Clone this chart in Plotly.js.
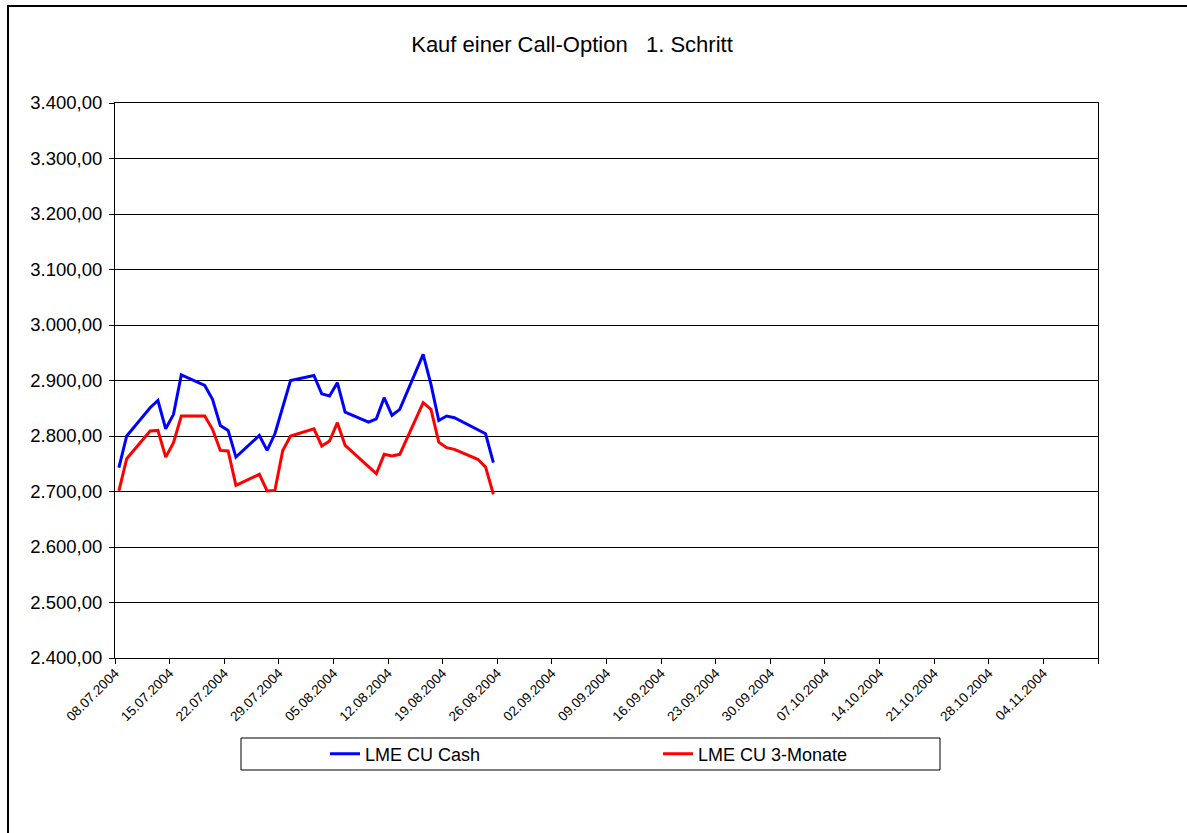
<!DOCTYPE html>
<html>
<head>
<meta charset="utf-8">
<script src="https://cdn.plot.ly/plotly-3.0.1.min.js"></script>
<style>html,body{margin:0;padding:0;background:#fff;}#chart{width:1187px;height:833px;}</style>
</head>
<body>
<div id="chart"></div>
<script>
// Trading days (points drawn at mid-day on the date axis)
const dates = ["2004-07-08","2004-07-09","2004-07-12","2004-07-13","2004-07-14","2004-07-15","2004-07-16",
  "2004-07-19","2004-07-20","2004-07-21","2004-07-22","2004-07-23",
  "2004-07-26","2004-07-27","2004-07-28","2004-07-29","2004-07-30",
  "2004-08-02","2004-08-03","2004-08-04","2004-08-05","2004-08-06",
  "2004-08-09","2004-08-10","2004-08-11","2004-08-12","2004-08-13",
  "2004-08-16","2004-08-17","2004-08-18","2004-08-19","2004-08-20",
  "2004-08-23","2004-08-24","2004-08-25"];
const cashValues = [2743,2800,2851,2864,2813,2839,2910,
  2891,2866,2819,2810,2762,
  2801,2774,2804,2852,2900,
  2909,2876,2872,2896,2843,
  2825,2831,2869,2837,2848,
  2947,2893,2828,2836,2833,
  2812,2804,2752];
const threeMonthValues = [2701,2759,2809,2810,2762,2788,2836,
  2836,2812,2774,2773,2711,
  2731,2701,2702,2774,2800,
  2813,2782,2791,2824,2783,
  2745,2732,2767,2764,2767,
  2860,2848,2789,2779,2776,
  2758,2744,2695];
const tickDates = ["2004-07-08","2004-07-15","2004-07-22","2004-07-29","2004-08-05","2004-08-12",
  "2004-08-19","2004-08-26","2004-09-02","2004-09-09","2004-09-16","2004-09-23","2004-09-30",
  "2004-10-07","2004-10-14","2004-10-21","2004-10-28","2004-11-04","2004-11-11"];
const tickLabels = ["08.07.2004","15.07.2004","22.07.2004","29.07.2004","05.08.2004","12.08.2004",
  "19.08.2004","26.08.2004","02.09.2004","09.09.2004","16.09.2004","23.09.2004","30.09.2004",
  "07.10.2004","14.10.2004","21.10.2004","28.10.2004","04.11.2004",""];
const seriesNames = ["LME CU Cash", "LME CU 3-Monate"];
const chartTitle = "Kauf einer Call-Option\u00a0\u00a0\u00a01. Schritt";

const xPts = dates.map(d => d + " 12:00");
const FONT = '"Liberation Sans", Arial, sans-serif';

const traces = [
  {x: xPts, y: cashValues, name: seriesNames[0], type: 'scatter', mode: 'lines',
   line: {color: '#0000FF', width: 3}},
  {x: xPts, y: threeMonthValues, name: seriesNames[1], type: 'scatter', mode: 'lines',
   line: {color: '#FF0000', width: 3}}
];

const L = 115, R = 1098, T = 103, B = 658;
const W = R - L, H = B - T;
const px = v => (v - L) / W;
const py = v => (B - v) / H;

const layout = {
  width: 1187, height: 833,
  margin: {l: L, r: 1187 - R, t: T, b: 833 - B, pad: 0},
  paper_bgcolor: '#fff', plot_bgcolor: '#fff',
  separators: ',.',
  font: {family: FONT, color: '#000'},
  title: {text: chartTitle, font: {family: FONT, size: 22, color: '#000'},
          x: 572 / 1187, xref: 'container', xanchor: 'center',
          y: 1 - 44 / 833, yref: 'container', yanchor: 'middle'},
  xaxis: {type: 'date', range: ['2004-07-08', '2004-11-11'],
          tickmode: 'array', tickvals: tickDates, ticktext: tickLabels,
          tickangle: -45, ticks: 'outside', ticklen: 5, tickcolor: '#000', ticklabelstandoff: -4,
          showgrid: false, showline: true, linecolor: '#000', linewidth: 1, mirror: true,
          tickfont: {family: FONT, size: 13.5, color: '#000'}, fixedrange: true},
  yaxis: {range: [2400, 3400], dtick: 100, tick0: 2400, tickformat: ',.2f',
          ticks: 'outside', ticklen: 5, tickcolor: '#000', ticklabelstandoff: 3,
          showgrid: true, gridcolor: '#000', gridwidth: 1, zeroline: false,
          showline: true, linecolor: '#000', linewidth: 1, mirror: true,
          tickfont: {family: FONT, size: 18.5, color: '#000'}, fixedrange: true},
  showlegend: true,
  legend: {orientation: 'h', x: px(325), xanchor: 'left', y: py(754), yanchor: 'middle',
           entrywidth: 288, entrywidthmode: 'pixels', itemwidth: 30,
           bgcolor: 'rgba(0,0,0,0)', borderwidth: 0,
           font: {family: FONT, size: 18, color: '#000'}},
  shapes: [
    {type: 'rect', xref: 'paper', yref: 'paper', x0: px(241), x1: px(940), y0: py(738), y1: py(770),
     line: {color: '#000', width: 1}, fillcolor: 'rgba(0,0,0,0)', layer: 'below'},
    {type: 'rect', xref: 'paper', yref: 'paper', x0: px(8), x1: px(1210), y0: py(6), y1: py(860),
     line: {color: '#000', width: 2}, fillcolor: 'rgba(0,0,0,0)'}
  ]
};

Plotly.newPlot('chart', traces, layout, {displayModeBar: false, staticPlot: true});
</script>
</body>
</html>
